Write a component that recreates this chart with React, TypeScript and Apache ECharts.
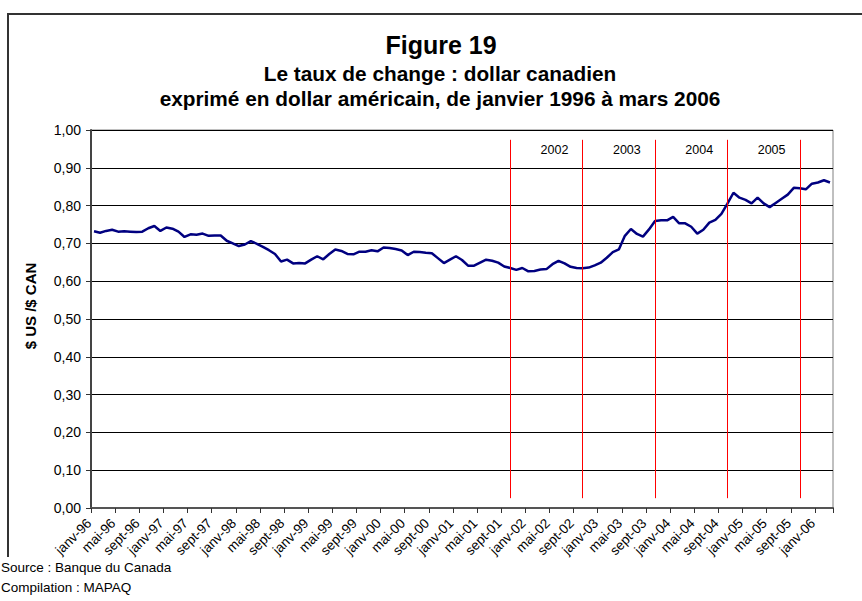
import React, { useEffect, useRef } from "react";
import * as echarts from "echarts";

const MONTHS = ["janv", "févr", "mars", "avr", "mai", "juin", "juil", "août", "sept", "oct", "nov", "déc"];
const YEARS = ["96", "97", "98", "99", "00", "01", "02", "03", "04", "05", "06"];
const N_MONTHS = 123; // janv-96 .. mars-06

const RATES = [
  0.732, 0.728, 0.733, 0.736, 0.731, 0.732, 0.731, 0.730, 0.731, 0.740, 0.746, 0.733,
  0.742, 0.739, 0.731, 0.717, 0.724, 0.723, 0.726, 0.720, 0.721, 0.721, 0.707, 0.700,
  0.693, 0.697, 0.706, 0.699, 0.691, 0.682, 0.672, 0.652, 0.657, 0.647, 0.648, 0.647,
  0.657, 0.666, 0.658, 0.672, 0.684, 0.680, 0.672, 0.671, 0.678, 0.678, 0.682, 0.679,
  0.689, 0.688, 0.685, 0.681, 0.669, 0.678, 0.677, 0.675, 0.674, 0.661, 0.648, 0.657,
  0.666, 0.656, 0.641, 0.641, 0.649, 0.657, 0.654, 0.649, 0.639, 0.635, 0.630, 0.635,
  0.626, 0.627, 0.631, 0.632, 0.645, 0.654, 0.647, 0.638, 0.635, 0.634, 0.636, 0.642,
  0.649, 0.662, 0.677, 0.684, 0.720, 0.738, 0.725, 0.718, 0.737, 0.759, 0.761, 0.761,
  0.770, 0.753, 0.753, 0.744, 0.726, 0.736, 0.755, 0.762, 0.778, 0.805, 0.834, 0.821,
  0.815, 0.806, 0.821, 0.806, 0.796, 0.807, 0.818, 0.829, 0.847, 0.846, 0.843, 0.858,
  0.861, 0.867, 0.861,
];

const DIVIDERS = ["oct-01", "oct-02", "oct-03", "oct-04", "oct-05"];
const PERIOD_LABELS = ["2002", "2003", "2004", "2005"];
const DIVIDER_TOP = 0.974;
const DIVIDER_BOTTOM = 0.026;

const TITLE = "Figure 19";
const SUBTITLE_1 = "Le taux de change : dollar canadien";
const SUBTITLE_2 = "exprimé en dollar américain, de janvier 1996 à mars 2006";
const Y_NAME = "$ US /$ CAN";
const SOURCE_1 = "Source : Banque du Canada";
const SOURCE_2 = "Compilation : MAPAQ";

const categories: string[] = [];
for (const y of YEARS) {
  for (const m of MONTHS) {
    if (categories.length < N_MONTHS) categories.push(`${m}-${y}`);
  }
}

const FONT = "Liberation Sans, Arial, sans-serif";

export default function App() {
  const ref = useRef<HTMLDivElement>(null);

  useEffect(() => {
    if (!ref.current) return;
    const chart = echarts.init(ref.current, undefined, { renderer: "svg" });

    const markLineData = DIVIDERS.map((d) => [
      { xAxis: d, yAxis: DIVIDER_TOP },
      { xAxis: d, yAxis: DIVIDER_BOTTOM },
    ]);
    const markAreaData = PERIOD_LABELS.map((p, i) => [
      { name: p, xAxis: DIVIDERS[i], yAxis: DIVIDER_TOP },
      { xAxis: DIVIDERS[i + 1], yAxis: DIVIDER_BOTTOM },
    ]);

    chart.setOption({
      animation: false,
      backgroundColor: "#fff",
      textStyle: { fontFamily: FONT },
      graphic: [
        {
          type: "polyline",
          shape: { points: [[8, 557], [8, 14], [870, 14]] },
          style: { stroke: "#333", lineWidth: 2, fill: "none" },
        },
        {
          type: "text",
          x: 441,
          y: 45,
          style: { text: TITLE, font: `bold 25px ${FONT}`, fill: "#000", textAlign: "center", textVerticalAlign: "middle" },
        },
        {
          type: "text",
          x: 440,
          y: 73,
          style: { text: SUBTITLE_1, font: `bold 20.8px ${FONT}`, fill: "#000", textAlign: "center", textVerticalAlign: "middle" },
        },
        {
          type: "text",
          x: 440,
          y: 98,
          style: { text: SUBTITLE_2, font: `bold 20.8px ${FONT}`, fill: "#000", textAlign: "center", textVerticalAlign: "middle" },
        },
        {
          type: "text",
          x: 30,
          y: 306,
          rotation: Math.PI / 2,
          style: { text: Y_NAME, font: `bold 15px ${FONT}`, fill: "#000", textAlign: "center", textVerticalAlign: "middle" },
        },
        {
          type: "text",
          x: 1,
          y: 567,
          style: { text: SOURCE_1, font: `13.5px ${FONT}`, fill: "#000", textAlign: "left", textVerticalAlign: "middle" },
        },
        {
          type: "text",
          x: 1,
          y: 587,
          style: { text: SOURCE_2, font: `13.5px ${FONT}`, fill: "#000", textAlign: "left", textVerticalAlign: "middle" },
        },
      ],
      grid: {
        left: 91,
        right: 29,
        top: 130,
        bottom: 93,
        show: true,
        borderColor: "#808080",
        borderWidth: 1,
        backgroundColor: "transparent",
      },
      xAxis: {
        type: "category",
        data: categories,
        boundaryGap: true,
        axisLine: { show: true, lineStyle: { color: "#555", width: 2 } },
        axisTick: { show: true, interval: 3, length: 5, lineStyle: { color: "#333" } },
        axisLabel: {
          interval: 3,
          rotate: 45,
          fontSize: 13.5,
          color: "#000",
          fontFamily: FONT,
          margin: 8,
          padding: [0, 7, 0, 0],
        },
        splitLine: { show: false },
      },
      yAxis: {
        type: "value",
        min: 0,
        max: 1,
        interval: 0.1,
        axisLine: { show: true, lineStyle: { color: "#444", width: 2 } },
        axisTick: { show: true, length: 5, lineStyle: { color: "#333" } },
        axisLabel: {
          fontSize: 14,
          color: "#000",
          fontFamily: FONT,
          margin: 10,
          formatter: (v: number) => v.toFixed(2).replace(".", ","),
        },
        splitLine: { show: true, lineStyle: { color: "#000", width: 1 } },
      },
      series: [
        {
          type: "line",
          data: RATES,
          symbol: "none",
          lineStyle: { color: "#000080", width: 2.5 },
          itemStyle: { color: "#000080" },
          markLine: {
            silent: true,
            symbol: ["none", "none"],
            label: { show: false },
            lineStyle: { color: "#ff0000", width: 1, type: "solid" },
            data: markLineData,
          },
          markArea: {
            silent: true,
            itemStyle: { color: "rgba(0,0,0,0)" },
            label: {
              show: true,
              position: "insideTop",
              distance: 4,
              offset: [8, 0],
              color: "#000",
              fontSize: 12.5,
              fontFamily: FONT,
              formatter: "{b}",
            },
            data: markAreaData,
          },
        },
      ],
    });

    return () => chart.dispose();
  }, []);

  return (
    <div
      ref={ref}
      style={{ position: "fixed", left: 0, top: 0, width: 862, height: 601, background: "#fff" }}
    />
  );
}
